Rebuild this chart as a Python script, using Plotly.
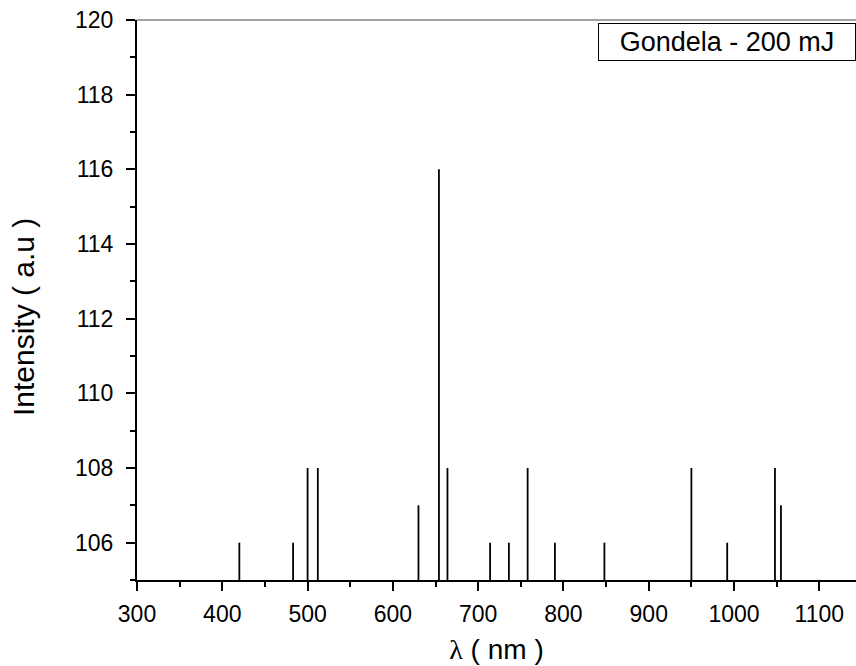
import plotly.graph_objects as go

wavelengths = [420, 483, 500, 512, 630, 654, 664, 714, 736, 758, 790, 848, 950, 992, 1048, 1055]
intensities = [106, 106, 108, 108, 107, 116, 108, 106, 106, 108, 106, 106, 108, 106, 108, 107]
baseline = 105
x_ticks = [300, 400, 500, 600, 700, 800, 900, 1000, 1100]
y_ticks = [106, 108, 110, 112, 114, 116, 118, 120]
legend_label = "Gondela - 200 mJ"
y_title = "Intensity ( a.u )"
x_title = "<span style='font-family:Liberation Serif'>λ</span> ( nm )"

xs, ys = [], []
for w, v in zip(wavelengths, intensities):
    xs += [w, w, None]
    ys += [baseline, v, None]

fig = go.Figure()
fig.add_trace(go.Scatter(x=xs, y=ys, mode="lines",
                         line=dict(color="black", width=1.8),
                         showlegend=False, hoverinfo="skip"))

font_main = "Liberation Sans, Arial, sans-serif"

fig.update_layout(
    width=856, height=666,
    margin=dict(l=137, r=0, t=20, b=86),
    paper_bgcolor="white", plot_bgcolor="white",
    font=dict(family=font_main, color="black", size=22),
    xaxis=dict(
        range=[300, 1143], tickvals=x_ticks, ticktext=[str(t) for t in x_ticks],
        showgrid=False, zeroline=False,
        showline=True, linecolor="black", linewidth=2,
        ticks="outside", ticklen=9, tickwidth=2, tickcolor="black",
        minor=dict(dtick=50, tick0=0, ticks="outside", ticklen=5, tickwidth=2, tickcolor="black", showgrid=False),
        tickfont=dict(size=23), ticklabelstandoff=3,
        title=dict(text=x_title, font=dict(size=28), standoff=14),
    ),
    yaxis=dict(
        range=[105, 120], tickvals=y_ticks, ticktext=[str(t) for t in y_ticks],
        showgrid=False, zeroline=False,
        showline=True, linecolor="black", linewidth=2,
        ticks="outside", ticklen=9, tickwidth=2, tickcolor="black",
        minor=dict(dtick=1, tick0=0, ticks="outside", ticklen=5, tickwidth=2, tickcolor="black", showgrid=False),
        tickfont=dict(size=23), ticklabelstandoff=8,
    ),
    shapes=[dict(type="line", xref="paper", yref="paper", x0=0, x1=1, y0=1, y1=1,
                 line=dict(color="#444", width=1))],
    annotations=[
        dict(text=legend_label, xref="paper", yref="paper", x=1, y=0.995,
             xanchor="right", yanchor="top", showarrow=False,
             font=dict(size=27), bordercolor="black", borderwidth=1,
             bgcolor="white", borderpad=2, width=252, height=32),
        dict(text=y_title, xref="paper", yref="paper", x=-0.1585, y=0.4696,
             xanchor="center", yanchor="middle", textangle=-90, showarrow=False,
             font=dict(size=30)),
    ],
)

fig.write_html("out.html", config={"displayModeBar": False})
with open("out.html", "r", encoding="utf-8") as f:
    html = f.read()
html = html.replace("<body>", "<body style=\"margin:0;padding:0\">", 1)
html = html.replace("<head>", "<head><style>html,body{margin:0;padding:0;overflow:hidden}</style>", 1)
with open("out.html", "w", encoding="utf-8") as f:
    f.write(html)
